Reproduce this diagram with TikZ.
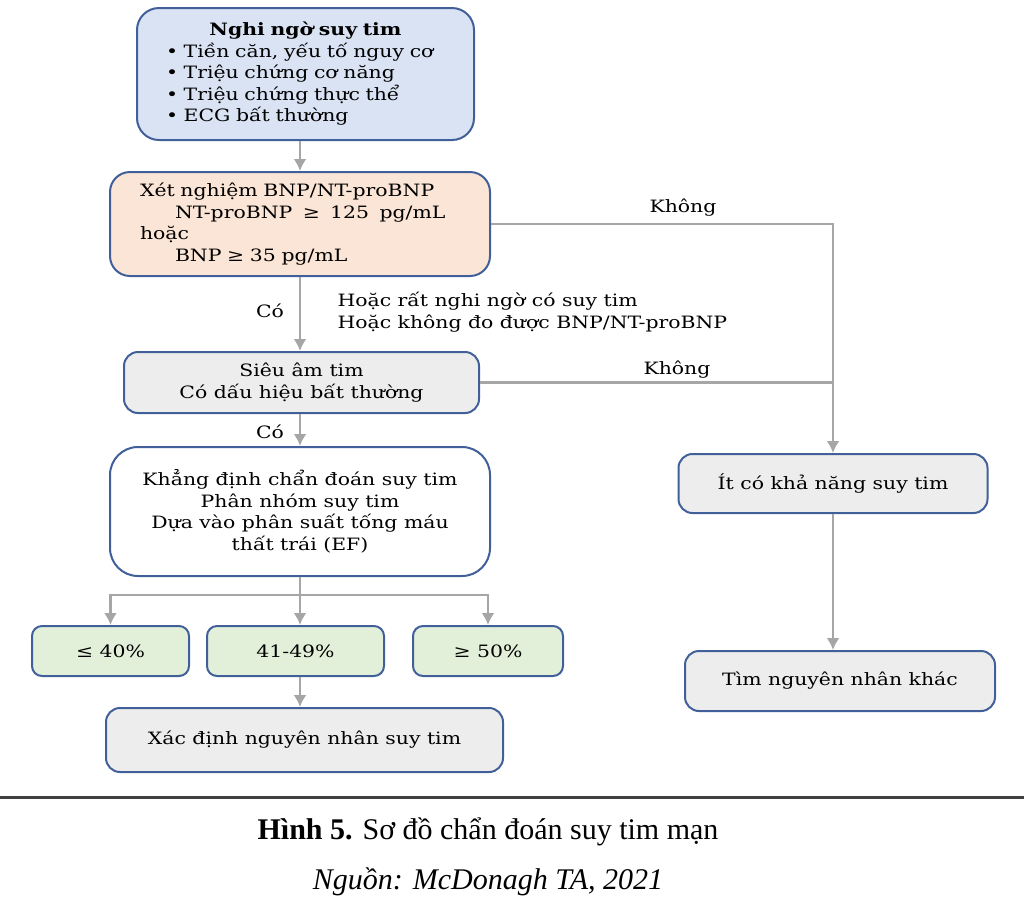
\documentclass[tikz,border=0pt]{standalone}
\usepackage{fontspec}
\setmainfont{DejaVu Serif}[FakeStretch=1.2]
\newfontfamily\legende{Liberation Serif}
\usetikzlibrary{arrows.meta}
\definecolor{bordure}{HTML}{41609A}
\definecolor{gris}{HTML}{A6A6A6}
\definecolor{bleu}{HTML}{DAE3F3}
\definecolor{peche}{HTML}{FBE5D6}
\definecolor{grisclair}{HTML}{EDEDED}
\definecolor{vert}{HTML}{E2F0D9}
\definecolor{filet}{HTML}{404040}
\begin{document}
\begin{tikzpicture}[x=1pt,y=-1pt]
		\tikzstyle{fleche}=[->,>={Latex[length=12pt,width=13pt]},line width=2.5pt,draw=gris]
		\tikzstyle{trait}=[line width=2.5pt,draw=gris]
		\tikzstyle{boite}=[draw=bordure,line width=2pt,rounded corners=14pt,inner sep=0pt,font=\fontsize{17}{21.5}\selectfont]
		\tikzstyle{etiquette}=[font=\fontsize{17}{21.5}\selectfont]
		\tikzstyle{legende}=[font=\legende\fontsize{30}{32}\selectfont]
		
		\useasboundingbox (0,0) rectangle (1024,906);
		
		\def\Gauche{300}
		\def\Droite{833}
		
		\node[boite,fill=bleu,rounded corners=22pt,minimum width=337pt,minimum height=132pt,text width=279pt,align=left] (NS) at (305.5,74) {\makebox[\linewidth]{\textbf{Nghi ngờ suy tim}}\\• Tiền căn, yếu tố nguy cơ\\• Triệu chứng cơ năng\\• Triệu chứng thực thể\\• ECG bất thường};
		\node[boite,fill=peche,rounded corners=20pt,minimum width=380pt,minimum height=104pt,text width=320pt,align=left] (XN) at (\Gauche,224) {Xét nghiệm BNP/NT-proBNP\\\hspace*{35pt}NT-proBNP \;≥\; 125 \;pg/mL\\hoặc\\\hspace*{35pt}BNP ≥ 35 pg/mL};
		\node[boite,fill=grisclair,minimum width=355pt,minimum height=61pt,align=center] (SA) at (301.5,382.5) {Siêu âm tim\\Có dấu hiệu bất thường};
		\node[boite,fill=white,rounded corners=28pt,minimum width=380pt,minimum height=129pt,align=center] (KD) at (\Gauche,511.5) {Khẳng định chẩn đoán suy tim\\Phân nhóm suy tim\\Dựa vào phân suất tống máu\\thất trái (EF)};
		\node[boite,fill=vert,rounded corners=10pt,minimum width=157pt,minimum height=50pt] (EFa) at (110.5,651) {≤ 40\%};
		\node[boite,fill=vert,rounded corners=10pt,minimum width=177pt,minimum height=50pt] (EFb) at (295.5,651) {41-49\%};
		\node[boite,fill=vert,rounded corners=10pt,minimum width=150pt,minimum height=50pt] (EFc) at (488,651) {≥ 50\%};
		\node[boite,fill=grisclair,minimum width=397pt,minimum height=64pt] (XD) at (304.5,740) {Xác định nguyên nhân suy tim};
		\node[boite,fill=grisclair,minimum width=309pt,minimum height=59pt] (IC) at (\Droite,483.5) {Ít có khả năng suy tim};
		\node[boite,fill=grisclair,minimum width=310pt,minimum height=60pt] (TN) at (840,681) {Tìm nguyên nhân khác};
		
		\node[etiquette] (K1) at (683,208) {Không};
		\node[etiquette] (K2) at (677,370) {Không};
		\node[etiquette] (C1) at (270,311) {Có};
		\node[etiquette] (C2) at (270,432) {Có};
		\node[etiquette,anchor=west,align=left] (HR) at (334,312) {Hoặc rất nghi ngờ có suy tim\\Hoặc không đo được BNP/NT-proBNP};
		
		\draw[fleche] (NS.south -| XN.north) -- (XN.north);
		\draw[fleche] (XN.east) -| (IC.north);
		\draw[fleche] (XN.south) -- (SA.north -| XN.south);
		\draw[trait] (SA.east) -- (SA.east -| IC.north);
		\draw[fleche] (SA.south -| KD.north) -- (KD.north);
		\draw[fleche] (KD.south) -- (KD.south |- EFb.north);
		\draw[fleche] (KD.south) -- ++(0,18) -| (EFa.north);
		\draw[fleche] (KD.south) -- ++(0,18) -| (EFc.north);
		\draw[fleche] (EFb.south -| KD.south) -- (XD.north -| KD.south);
		\draw[fleche] (IC.south) -- (IC.south |- TN.north);
		
		\coordinate (Fa) at (0,797);
		\coordinate (Fb) at (1024,797);
		\draw[line width=3pt,draw=filet] (Fa) -- (Fb);
		\node[legende] (H5) at (488,832) {\textbf{Hình 5.} Sơ đồ chẩn đoán suy tim mạn};
		\node[legende,font={\legende\fontsize{30}{32}\selectfont\itshape}] (NG) at (488,882) {Nguồn: McDonagh TA, 2021};
\end{tikzpicture}
\end{document}
